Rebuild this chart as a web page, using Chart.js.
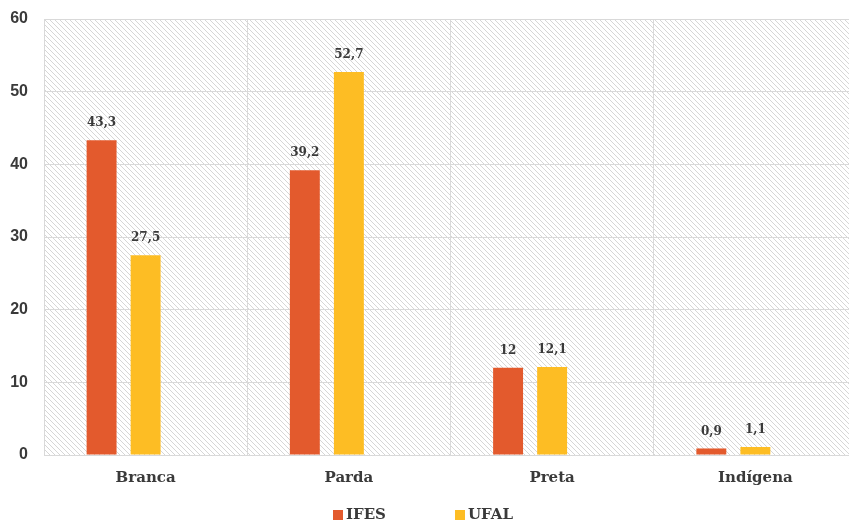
<!DOCTYPE html>
<html>
<head>
<meta charset="utf-8">
<script src="https://cdn.jsdelivr.net/npm/chart.js@4"></script>
<style>
html,body{margin:0;padding:0;background:#fff;overflow:hidden;}
#wrap{width:857px;height:523px;position:relative;}
</style>
</head>
<body>
<div id="wrap"><canvas id="c"></canvas></div>
<script>
const categories = ['Branca', 'Parda', 'Preta', 'Indígena'];
const ifesValues = [43.3, 39.2, 12, 0.9];
const ufalValues = [27.5, 52.7, 12.1, 1.1];
const seriesNames = ['IFES', 'UFAL'];
const yTicks = [0, 10, 20, 30, 40, 50, 60];

const colIFES = '#E35A2D';
const colUFAL = '#FDBD24';
const textCol = '#3a3a3a';

function makeHatch() {
  const s = 5;
  const p = document.createElement('canvas');
  p.width = s; p.height = s;
  const g = p.getContext('2d');
  g.fillStyle = '#ffffff';
  g.fillRect(0, 0, s, s);
  g.strokeStyle = '#d6d6d6';
  g.lineWidth = 1;
  g.beginPath();
  g.moveTo(-1, -1); g.lineTo(s + 1, s + 1);
  g.moveTo(-1, s - 1); g.lineTo(1, s + 1);
  g.moveTo(s - 1, -1); g.lineTo(s + 1, 1);
  g.stroke();
  return g.createPattern(p, 'repeat');
}

const hatchPlugin = {
  id: 'hatch',
  beforeDraw(chart) {
    const {ctx, chartArea: a} = chart;
    ctx.save();
    ctx.fillStyle = makeHatch();
    ctx.fillRect(a.left, a.top, a.right - a.left, a.bottom - a.top);
    ctx.restore();
  }
};

const valueLabels = {
  id: 'valueLabels',
  afterDatasetsDraw(chart) {
    const ctx = chart.ctx;
    ctx.save();
    ctx.font = 'bold 12px "DejaVu Serif"';
    ctx.fillStyle = textCol;
    ctx.textAlign = 'center';
    ctx.textBaseline = 'bottom';
    chart.data.datasets.forEach((ds, i) => {
      if (!ds.showValues) return;
      chart.getDatasetMeta(i).data.forEach((bar, j) => {
        const v = ds.data[j];
        if (v == null) return;
        ctx.fillText(String(v).replace('.', ','), bar.x, bar.y - 11);
      });
    });
    ctx.restore();
  }
};

const customLegend = {
  id: 'customLegend',
  afterDraw(chart) {
    const ctx = chart.ctx;
    const items = [{x: 333, i: 0}, {x: 455, i: 1}];
    ctx.save();
    ctx.font = 'bold 15px "DejaVu Serif"';
    ctx.textBaseline = 'middle';
    ctx.textAlign = 'left';
    const y = 515;
    items.forEach(it => {
      const ds = chart.data.datasets[it.i];
      ctx.fillStyle = ds.backgroundColor;
      ctx.fillRect(it.x, y - 5, 10, 10);
      ctx.fillStyle = textCol;
      ctx.fillText(ds.label, it.x + 13, y);
    });
    ctx.restore();
  }
};

new Chart(document.getElementById('c'), {
  type: 'bar',
  data: {
    labels: categories,
    datasets: [
      {label: seriesNames[0], data: ifesValues, backgroundColor: colIFES, showValues: true},
      {label: seriesNames[1], data: ufalValues, backgroundColor: colUFAL, showValues: true},
      {label: '', data: categories.map(() => null), backgroundColor: 'rgba(0,0,0,0)', showValues: false}
    ]
  },
  options: {
    responsive: true,
    maintainAspectRatio: false,
    animation: false,
    datasets: {bar: {categoryPercentage: 0.65, barPercentage: 0.68}},
    layout: {padding: {top: 19, left: 0, right: 0, bottom: 0}},
    plugins: {legend: {display: false}, tooltip: {enabled: false}},
    scales: {
      x: {
        grid: {color: '#d9d9d9', lineWidth: 1, drawTicks: false, offset: true},
        border: {color: '#d9d9d9'},
        ticks: {color: textCol, font: {family: 'DejaVu Serif', weight: 'bold', size: 15}, padding: 14},
        afterFit(s) { s.height = 68; s.paddingLeft = 0; s.paddingRight = 0; }
      },
      y: {
        min: 0, max: 60,
        afterBuildTicks(s) { s.ticks = yTicks.map(v => ({value: v})); },
        grid: {color: '#d9d9d9', lineWidth: 1, drawTicks: false},
        border: {color: '#d9d9d9'},
        ticks: {color: textCol, font: {family: 'Liberation Sans', weight: 'bold', size: 16}, padding: 16},
        afterFit(s) { s.width = 44; s.paddingTop = 0; s.paddingBottom = 0; }
      }
    }
  },
  plugins: [hatchPlugin, valueLabels, customLegend]
});
</script>
</body>
</html>
